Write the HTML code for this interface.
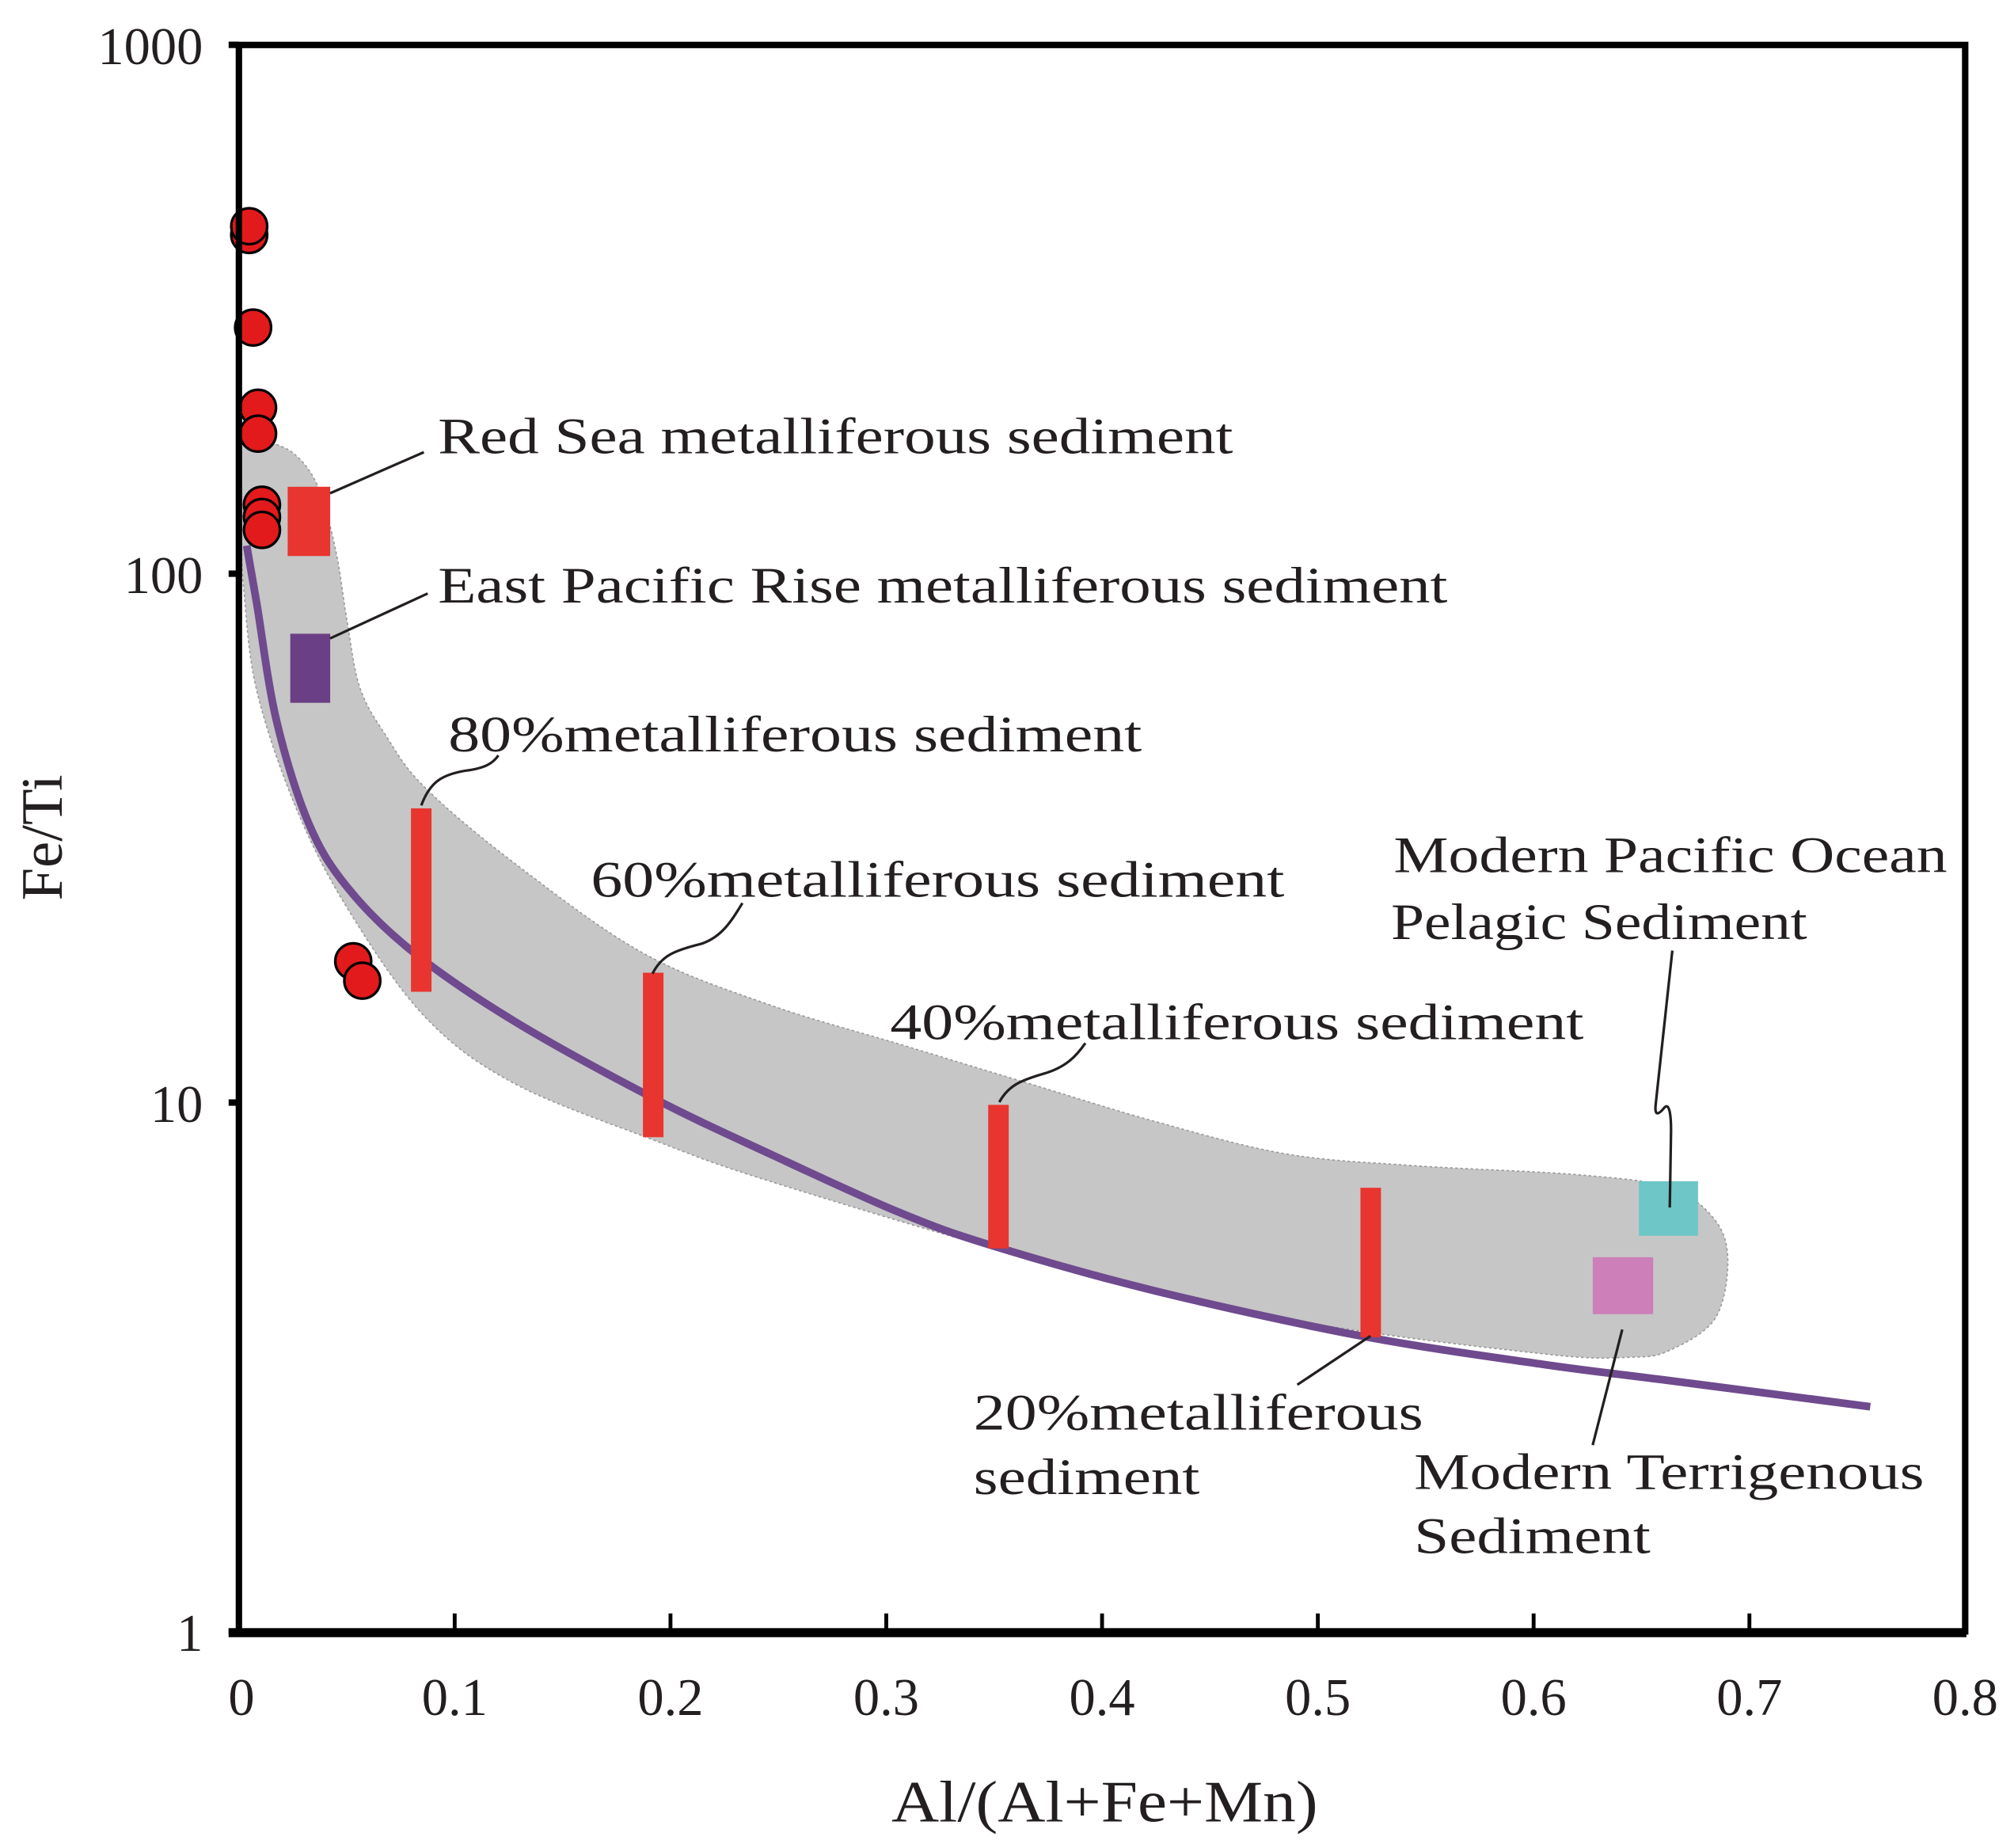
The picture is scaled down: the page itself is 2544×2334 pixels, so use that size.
<!DOCTYPE html>
<html><head><meta charset="utf-8"><style>
html,body{margin:0;padding:0;background:#fff}
svg{display:block}
text{font-family:"Liberation Serif",serif;fill:#231f20}
</style></head><body>
<svg id="chart" width="2544" height="2334" viewBox="0 0 1568 1438.6" preserveAspectRatio="none" xmlns="http://www.w3.org/2000/svg">
<g id="band"></g>
<g id="curve"></g>
<g id="fields"></g>
<g id="bars"></g>
<g id="leaders" fill="none" stroke="#231f20" stroke-width="2">
<path d="M257,384 L330,352"/>
<path d="M257,497 L333,462"/>
<path d="M328,627 C335,608 345,603 362,600 C378,598 384,594 388,588"/>
<path d="M508,758 C515,744 525,740 545,735 C562,730 570,716 578,703"/>
<path d="M778,858 C785,845 795,841 812,836 C830,831 838,822 845,812"/>
<path d="M1302,740 L1289,860 C1288,870 1292,867 1296,862 C1300,858 1301,870 1301,880 L1300,940"/>
<path d="M1067,1040 L1010,1078"/>
<path d="M1263,1035 L1240,1125"/>
</g>
<g id="points"></g>
<g id="axes"></g>
<g font-size="40">
<text x="341" y="353" textLength="619" lengthAdjust="spacingAndGlyphs">Red Sea metalliferous sediment</text>
<text x="341" y="469" textLength="786" lengthAdjust="spacingAndGlyphs">East Pacific Rise metalliferous sediment</text>
<text x="349" y="585" textLength="540" lengthAdjust="spacingAndGlyphs">80%metalliferous sediment</text>
<text x="460" y="698" textLength="540" lengthAdjust="spacingAndGlyphs">60%metalliferous sediment</text>
<text x="693" y="809" textLength="540" lengthAdjust="spacingAndGlyphs">40%metalliferous sediment</text>
<text x="1085" y="679" textLength="431" lengthAdjust="spacingAndGlyphs">Modern Pacific Ocean</text>
<text x="1083" y="731" textLength="324" lengthAdjust="spacingAndGlyphs">Pelagic Sediment</text>
<text x="758" y="1113" textLength="350" lengthAdjust="spacingAndGlyphs">20%metalliferous</text>
<text x="758" y="1163" textLength="176" lengthAdjust="spacingAndGlyphs">sediment</text>
<text x="1101" y="1159" textLength="397" lengthAdjust="spacingAndGlyphs">Modern Terrigenous</text>
<text x="1101" y="1209" textLength="184" lengthAdjust="spacingAndGlyphs">Sediment</text>
</g>
</svg>
<script>
const xTicks = [0, 0.1, 0.2, 0.3, 0.4, 0.5, 0.6, 0.7, 0.8];
const xTickLabels = ["0", "0.1", "0.2", "0.3", "0.4", "0.5", "0.6", "0.7", "0.8"];
const yTicks = [1, 10, 100, 1000];
const yTickLabels = ["1", "10", "100", "1000"];
const sampleX = [0.0024, 0.0024, 0.0042, 0.0065, 0.0065, 0.0083, 0.0083, 0.0083, 0.0506, 0.0548];
const sampleY = [437, 454, 292, 206, 184, 135, 128, 121, 18.5, 17.0];
const curveX = [0.0036, 0.0083, 0.0173, 0.0321, 0.05, 0.0798, 0.127, 0.192, 0.246, 0.306, 0.35, 0.425, 0.52, 0.604, 0.663, 0.756];
const curveY = [113, 87.7, 53, 33.9, 25.6, 19.4, 14.3, 10.2, 8.0, 6.2, 5.35, 4.40, 3.62, 3.20, 2.98, 2.66];
const barNames = ["bar-80", "bar-60", "bar-40", "bar-20"];
const barX = [0.0845, 0.192, 0.352, 0.5245];
const barLow = [16.2, 8.6, 5.3, 3.6];
const barHigh = [36, 17.6, 9.9, 6.9];
const fieldNames = ["red-sea-field", "epr-field", "pacific-pelagic-field", "terrigenous-field"];
const fieldX0 = [0.0226, 0.0238, 0.6488, 0.6274];
const fieldX1 = [0.0423, 0.0423, 0.6762, 0.6554];
const fieldY0 = [108, 57, 5.6, 3.98];
const fieldY1 = [146, 77, 7.1, 5.1];
const fieldColors = ["#e8352f", "#6b3f85", "#6ec6c6", "#cc7fb9"];
const bandUpperX = [0.0012, 0.012, 0.026, 0.037, 0.045, 0.05, 0.056, 0.068, 0.086, 0.127, 0.187, 0.246, 0.306, 0.365, 0.425, 0.485, 0.544, 0.621, 0.663, 0.684, 0.69];
const bandUpperY = [178, 178, 168, 145, 110, 82, 61, 49.5, 39.5, 28.5, 19.2, 15.3, 12.9, 10.9, 9.2, 8.0, 7.6, 7.3, 6.9, 6.0, 5.0];
const bandLowerX = [0.684, 0.663, 0.645, 0.604, 0.485, 0.365, 0.246, 0.192, 0.127, 0.0857, 0.05, 0.0262, 0.0083, 0.0024, 0.0012];
const bandLowerY = [3.9, 3.4, 3.3, 3.35, 3.9, 5.1, 7.1, 8.5, 10.9, 14.6, 23.4, 36.3, 60, 92, 120];

const NS = "http://www.w3.org/2000/svg";
function X(v){ return 186 + v * 1680; }
function Y(v){ return 1270 - Math.log10(v) * 411.7; }
function mk(tag, attrs, parent){
  const e = document.createElementNS(NS, tag);
  for (const k in attrs) e.setAttribute(k, attrs[k]);
  parent.appendChild(e);
  return e;
}
function smooth(pts, closed){
  const n = pts.length;
  let s = "M" + pts[0][0] + "," + pts[0][1];
  const last = closed ? n : n - 1;
  for (let i = 0; i < last; i++) {
    const g = j => closed ? pts[(j + n) % n] : pts[Math.max(0, Math.min(n - 1, j))];
    const p0 = g(i - 1), p1 = g(i), p2 = g(i + 1), p3 = g(i + 2);
    const c1x = p1[0] + (p2[0] - p0[0]) / 6, c1y = p1[1] + (p2[1] - p0[1]) / 6;
    const c2x = p2[0] - (p3[0] - p1[0]) / 6, c2y = p2[1] - (p3[1] - p1[1]) / 6;
    s += " C" + c1x + "," + c1y + " " + c2x + "," + c2y + " " + p2[0] + "," + p2[1];
  }
  return s + (closed ? " Z" : "");
}

// band
const bandPts = [];
bandUpperX.forEach((x, i) => bandPts.push([X(x), Y(bandUpperY[i])]));
bandLowerX.forEach((x, i) => bandPts.push([X(x), Y(bandLowerY[i])]));
const band = mk("path", {d: smooth(bandPts, true), fill: "#c6c6c6", stroke: "#999", "stroke-width": "1", "stroke-dasharray": "2,2", "stroke-linejoin": "round"}, document.getElementById("band"));



// curve
const curvePts = curveX.map((x, i) => [X(x), Y(curveY[i])]);
const cv = mk("path", {d: smooth(curvePts, false), fill: "none", stroke: "#6f4a8e", "stroke-width": "6", "stroke-linejoin": "round"}, document.getElementById("curve"));



// fields
fieldNames.forEach((n, i) => {
  const r = mk("rect", {x: X(fieldX0[i]), y: Y(fieldY1[i]), width: X(fieldX1[i]) - X(fieldX0[i]), height: Y(fieldY0[i]) - Y(fieldY1[i]), fill: fieldColors[i]}, document.getElementById("fields"));
  
  
});

// bars
barNames.forEach((n, i) => {
  const r = mk("rect", {x: X(barX[i]) - 8, y: Y(barHigh[i]), width: 16, height: Y(barLow[i]) - Y(barHigh[i]), fill: "#e8352f"}, document.getElementById("bars"));
  
  
});

// points
sampleX.forEach((x, i) => {
  const c = mk("circle", {cx: X(x) + 4, cy: Y(sampleY[i]), r: 14, fill: "#e31a1c", stroke: "#000", "stroke-width": "2"}, document.getElementById("points"));
  
  
});

// axes
const ax = document.getElementById("axes");
const frame = mk("rect", {x: 186, y: 35, width: 1344, height: 1235, fill: "none", stroke: "#000", "stroke-width": "5"}, ax);


const xb = mk("line", {x1: 178, y1: 1271, x2: 1531, y2: 1271, stroke: "#000", "stroke-width": "7"}, ax);


xTicks.forEach((v, i) => {
  if (i > 0 && i < xTicks.length - 1) {
    const t = mk("line", {x1: X(v), y1: 1270, x2: X(v), y2: 1256, stroke: "#000", "stroke-width": "3"}, ax);
    
    
  }
  const tl = mk("text", {x: X(v) + (i === 0 ? 2 : 0), y: 1335, "text-anchor": "middle", "font-size": "41"}, ax);
  tl.textContent = xTickLabels[i];
  
  
});
yTicks.forEach((v, i) => {
  const t = mk("line", {x1: 178, y1: Y(v), x2: 186, y2: Y(v), stroke: "#000", "stroke-width": "5"}, ax);
  
  
  const tl = mk("text", {x: 158, y: Y(v) + 15, "text-anchor": "end", "font-size": "41"}, ax);
  tl.textContent = yTickLabels[i];
  
  
});
const xt = mk("text", {x: 860, y: 1418, "text-anchor": "middle", "font-size": "46", textLength: "332", lengthAdjust: "spacingAndGlyphs"}, ax);
xt.textContent = "Al/(Al+Fe+Mn)";


const yt = mk("text", {x: 0, y: 0, "text-anchor": "middle", "font-size": "46", transform: "translate(48,652) rotate(-90)"}, ax);
yt.textContent = "Fe/Ti";


</script>
</body></html>
